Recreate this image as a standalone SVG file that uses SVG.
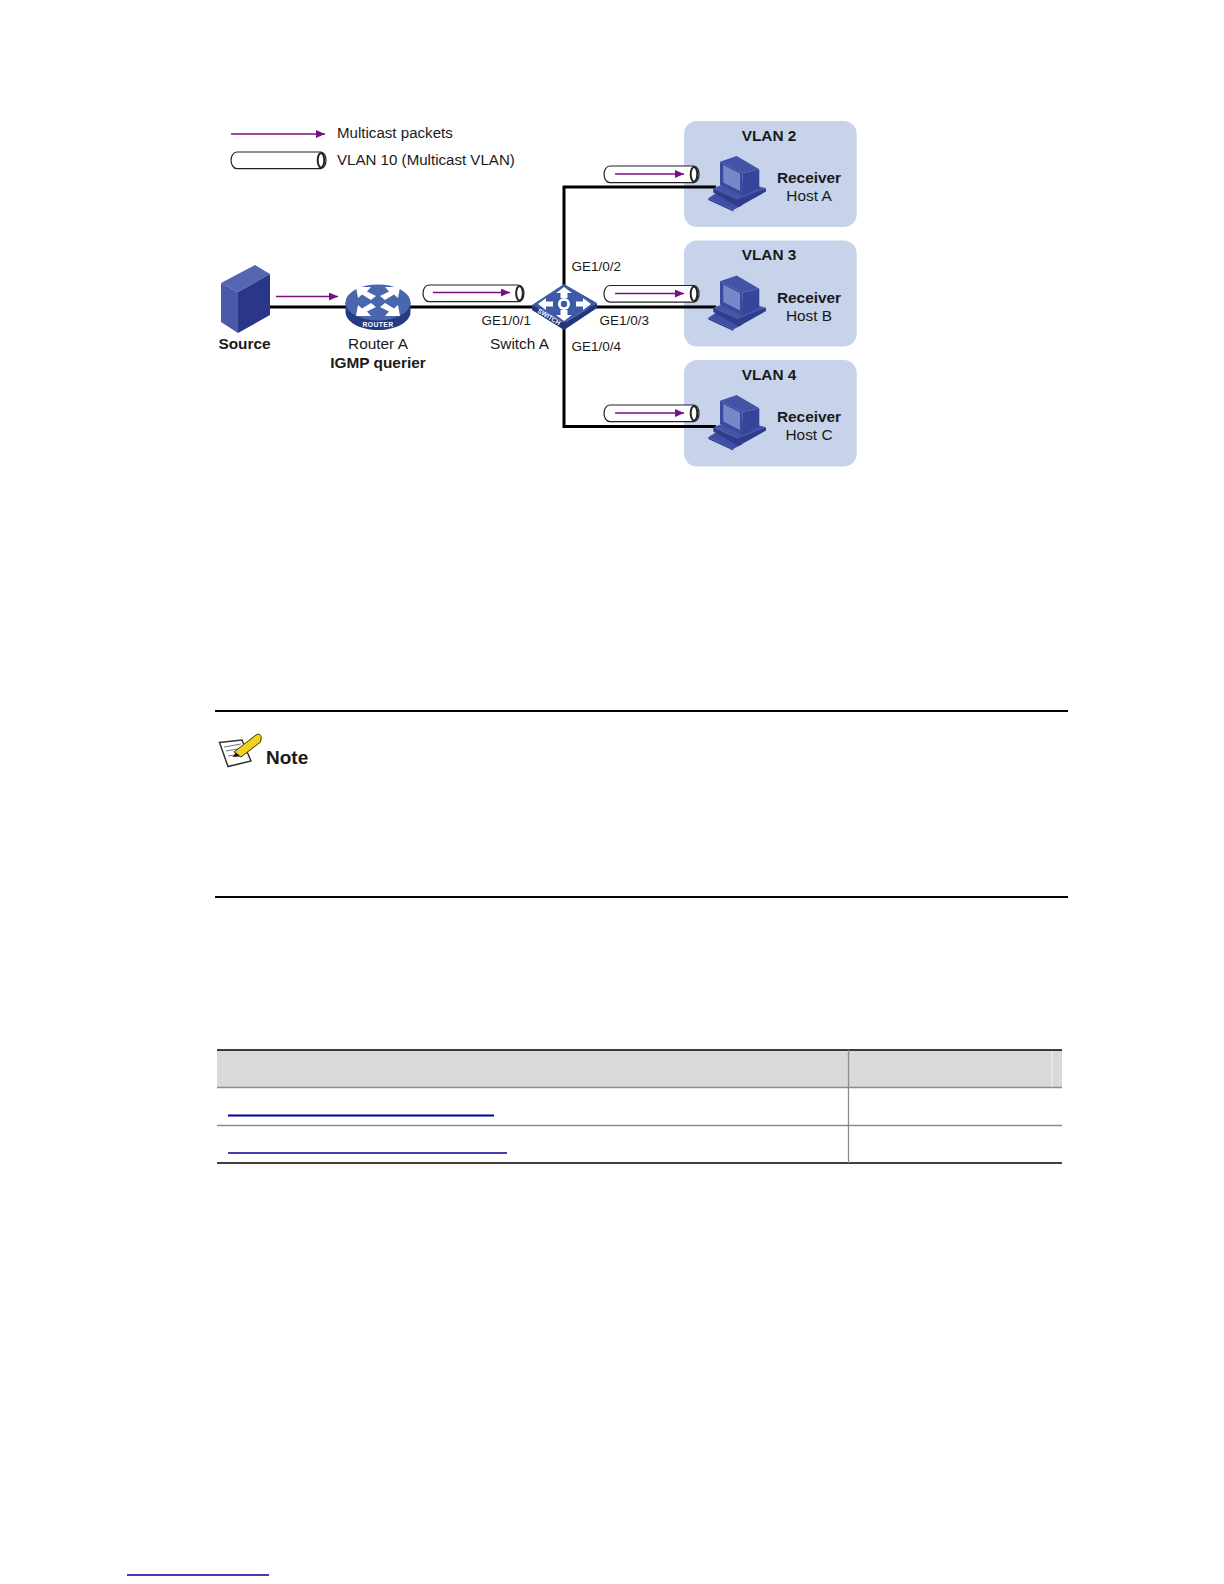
<svg xmlns="http://www.w3.org/2000/svg" width="1224" height="1584" viewBox="0 0 1224 1584">
<style>
text{font-family:"Liberation Sans",Arial,sans-serif;fill:#1a1a1a;font-size:15.400px}
.b{font-weight:bold}
.m{text-anchor:middle}
.lg{font-size:15.100px}
.pt{font-size:13.500px}
.wire{fill:none;stroke:#000;stroke-width:3}
.mc{stroke:#7a0f82;stroke-width:1.300;fill:none;marker-end:url(#ah)}
.tb{fill:#fff;stroke:#222;stroke-width:1.200}
.box{fill:#c6d3ea}
.rule{stroke:#000;stroke-width:2}
.edge{stroke:#000;stroke-width:1.500}
.tl{stroke:#8c8c8c;stroke-width:1.300}
.lnk{stroke:#00009a}
</style>
<defs>
<marker id="ah" markerUnits="userSpaceOnUse" markerWidth="9" markerHeight="8" refX="9" refY="4" orient="auto"><path d="M0 0L9 4L0 8Z" fill="#7a0f82"/></marker>
<symbol id="tube" overflow="visible">
<path class="tb" d="M6 0H90C93 0 95 4 95 8.300S93 16.600 90 16.600H6C2 16.600 0 12 0 8.300S2 0 6 0Z"/>
<ellipse cx="90" cy="8.300" rx="3.300" ry="7.300" fill="#fff" stroke="#222" stroke-width="2"/>
</symbol>
<g id="pc">
<path fill="#3f4fa3" d="M708.300 198.300L716.700 192.700L742.700 205L733.300 210Z"/>
<path fill="#2f3d8f" d="M708.300 198.300L733.300 210L733.300 211.500L708.300 200Z"/>
<path fill="#4555a6" d="M713.300 188.300L735 180L766 188.300L741 201L713.300 188.300Z"/>
<path fill="#2e3c8c" d="M713.300 188.300L738 199.500L766 188.300V191.500L738.500 207L713.300 192.500Z"/>
<path fill="#36459a" d="M742.700 173L759.300 169.300V188L742.700 196Z"/>
<path fill="#4353a6" d="M720 161.700L736.700 156L759.300 169.300L742.700 173Z"/>
<path fill="#3a4a9f" d="M720 161.700L742.700 173V196L720 185Z"/>
<path fill="#7888c6" d="M723.300 165L740 173.500V191L723.300 182.500Z"/>
</g>
</defs>
<rect width="1224" height="1584" fill="#fff"/>

<g id="vlan2-zone"><rect class="box" x="684" y="121" width="172.700" height="106" rx="13"/><text class="b m" x="769" y="141">VLAN 2</text></g>
<g id="vlan3-zone"><rect class="box" x="684" y="240.500" width="172.700" height="106" rx="13"/><text class="b m" x="769" y="260">VLAN 3</text></g>
<g id="vlan4-zone"><rect class="box" x="684" y="360" width="172.700" height="106.500" rx="13"/><text class="b m" x="769" y="379.500">VLAN 4</text></g>

<g id="connectors">
<path class="wire" d="M269 307H716"/>
<path class="wire" d="M716 187H564V426.500H716"/>
<path class="mc" d="M231 134H325"/>
<use href="#tube" x="231" y="152"/>
<path class="tb" d="M429 285H518C522 285 524 289 524 293.300S522 301.600 518 301.600H429C425 301.600 423 297 423 293.300S425 285 429 285Z"/>
<ellipse cx="519.500" cy="293.300" rx="3.300" ry="7.300" fill="#fff" stroke="#222" stroke-width="2"/>
<path class="mc" d="M433 292.500H510"/>
<path class="mc" d="M276 296.500H338"/>
<use href="#tube" x="604" y="166"/><path class="mc" d="M615 174H684"/>
<use href="#tube" x="604" y="285.500"/><path class="mc" d="M615 293.500H684"/>
<use href="#tube" x="604" y="405"/><path class="mc" d="M615 413H684"/>
</g>

<g id="legend">
<text class="lg" x="337" y="138">Multicast packets</text>
<text class="lg" x="337" y="165">VLAN 10 (Multicast VLAN)</text>
</g>

<g id="source">
<path fill="#5565b4" d="M221 283L255 265L270 274L238 292Z"/>
<path fill="#4a59a8" d="M221 283L238 292L238 333L221 322Z"/>
<path fill="#2a3789" d="M238 292L270 274L270 315L238 333Z"/>
<text class="b m" x="244.500" y="349">Source</text>
</g>

<g id="router-a">
<path fill="#263a85" d="M345.500 302V312C345.500 322 360 330 378 330S410.500 322 410.500 312V302Z"/>
<ellipse cx="378" cy="302.500" rx="32.500" ry="18" fill="#4a66ae"/>
<path fill="#fff" d="M356 287H371L367 291.500L376 296L371 300L362 294.500L358 298ZM400 287H385L389 291.500L380 296L385 300L394 294.500L398 298ZM356 316H371L367 311.500L376 307L371 303L362 308.500L358 305ZM400 316H385L389 311.500L380 307L385 303L394 308.500L398 305Z"/>
<text class="b m" x="378" y="326.500" style="font-size:6.800px;fill:#fff;letter-spacing:.4px">ROUTER</text>
<text class="m" x="378" y="349">Router A</text>
<text class="b m" x="378" y="367.500">IGMP querier</text>
</g>

<g id="switch-a">
<path fill="#23357f" d="M532 305V310L564 330L597 308V303L564 323Z"/>
<path fill="#3d5aa6" d="M532 305L564 284L597 303L564 323Z"/>
<path fill="#fff" d="M564 287L572 293H567.500L567.500 298H560.500L560.500 293H556ZM564 321L572 315H567.500L567.500 310H560.500L560.500 315H556ZM538 304L546 298V301.500L553 301.500V306.500L546 306.500V310ZM591 304L583 298V301.500L576 301.500V306.500L583 306.500V310Z"/>
<circle cx="564" cy="304" r="6" fill="#fff"/><circle cx="564" cy="304" r="3.200" fill="#3d5aa6"/>
<text class="b" transform="translate(537 312) rotate(32)" style="font-size:6.500px;fill:#fff">SWITCH</text>
<text x="490" y="349">Switch A</text>
</g>

<g id="host-a"><use href="#pc"/><text class="b m" x="809" y="183">Receiver</text><text class="m" x="809" y="201">Host A</text></g>
<g id="host-b"><use href="#pc" y="119.500"/><text class="b m" x="809" y="302.500">Receiver</text><text class="m" x="809" y="320.500">Host B</text></g>
<g id="host-c"><use href="#pc" y="239"/><text class="b m" x="809" y="422">Receiver</text><text class="m" x="809" y="440">Host C</text></g>

<g id="port-labels">
<text class="pt" x="481.500" y="324.500">GE1/0/1</text>
<text class="pt" x="571.500" y="271">GE1/0/2</text>
<text class="pt" x="599.500" y="324.500">GE1/0/3</text>
<text class="pt" x="571.500" y="351">GE1/0/4</text>
</g>

<g id="note">
<line class="rule" x1="215" y1="711" x2="1068" y2="711"/>
<line class="rule" x1="215" y1="897" x2="1068" y2="897"/>
<path fill="#fff" stroke="#333" stroke-width="1.500" d="M219.500 742.500L242 740L251 761L228 766.500Z"/>
<path fill="none" stroke="#777" stroke-width="1" d="M224 747L241 744M226 751L238 749M228 756L234 755"/>
<path fill="#f2d21c" stroke="#3a3000" stroke-width="1" d="M234 752L256 735C259 733 262 735 261 739L260.500 742L241 757Z"/>
<path fill="#111" d="M232.500 757L236 752.500L240 756.500Z"/>
<text class="b" x="266" y="764" style="font-size:19px">Note</text>
</g>

<g id="table">
<rect x="217" y="1050" width="845" height="37" fill="#d9d9d9"/>
<line x1="1052" y1="1051" x2="1052" y2="1087" stroke="#efefef" stroke-width="1.200"/>
<line class="edge" x1="217" y1="1050" x2="1062" y2="1050"/>
<line class="tl" x1="217" y1="1087.500" x2="1062" y2="1087.500"/>
<line class="tl" x1="217" y1="1125.500" x2="1062" y2="1125.500"/>
<line class="edge" x1="217" y1="1163" x2="1062" y2="1163"/>
<line class="tl" x1="848.500" y1="1050" x2="848.500" y2="1163"/>
<line class="lnk" x1="228" y1="1115.500" x2="494" y2="1115.500" stroke-width="2"/>
<line class="lnk" x1="228" y1="1153" x2="507" y2="1153" stroke-width="1.300"/>
</g>

<line id="footer-link" class="lnk" x1="127" y1="1575" x2="269" y2="1575" stroke-width="1.300"/>
</svg>
